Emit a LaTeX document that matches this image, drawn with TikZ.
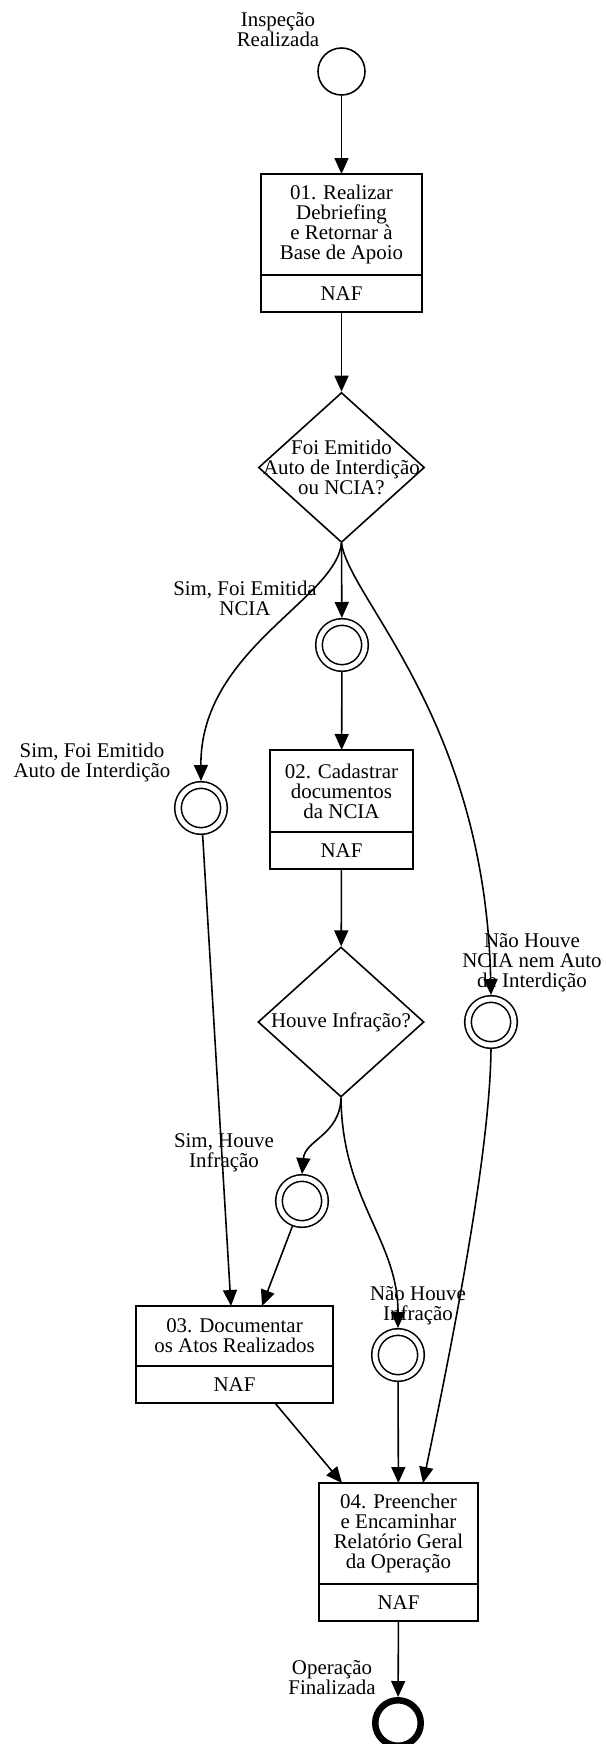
\documentclass[tikz,border=0pt]{standalone}
\usepackage{fontspec}
\setmainfont{Liberation Serif}
\usetikzlibrary{positioning,arrows.meta,shapes.geometric}

\begin{document}
\begin{tikzpicture}[x=0.2mm, y=-0.2mm,
    every node/.style={font=\fontsize{11.9}{11.4}\selectfont, line width=0.9pt},
    task/.style={draw, align=center, inner sep=0pt, outer sep=0pt},
    naf/.style={draw, align=center, inner sep=0pt, outer sep=0pt, minimum height=7.4mm},
    decision/.style={draw, diamond, inner sep=0pt, minimum width=33.2mm, minimum height=30mm},
    event/.style={draw, circle, inner sep=0pt, minimum size=9.4mm},
    inter/.style={draw, circle, inner sep=0pt, minimum size=9.2mm, double, double distance=1mm, outer sep=0.8mm},
    final/.style={draw, circle, inner sep=0pt, minimum size=9.1mm, line width=1.3mm},
    lbl/.style={align=center},
    arrow/.style={-{Triangle[length=3.2mm,width=2.8mm]}, line width=0.9pt}
]
\useasboundingbox (0,0) rectangle (605,1744);

% Eventos de inicio e fim
\node[event] (ini) at (341.5,71.5) {};
\node[final] (fim) at (398,1723) {};

% Tarefas (texto + NAF)
\node[task, minimum width=32.2mm, minimum height=20.2mm] (t1) at (341.5,224.5) {01. Realizar\\Debriefing\\e Retornar à\\Base de Apoio};
\node[naf, minimum width=32.2mm, below=0pt of t1] (t1n) {NAF};
\node[task, minimum width=28.6mm, minimum height=16.4mm] (t2) at (341.5,791) {02. Cadastrar\\documentos\\da NCIA};
\node[naf, minimum width=28.6mm, below=0pt of t2] (t2n) {NAF};
\node[task, minimum width=39.4mm, minimum height=12mm] (t3) at (234.5,1336) {03. Documentar\\os Atos Realizados};
\node[naf, minimum width=39.4mm, below=0pt of t3] (t3n) {NAF};
\node[task, minimum width=31.8mm, minimum height=20.2mm] (t4) at (398.5,1533.5) {04. Preencher\\e Encaminhar\\Relatório Geral\\da Operação};
\node[naf, minimum width=31.8mm, below=0pt of t4] (t4n) {NAF};

% Decisoes
\node[decision] (d1) at (341.5,467.5) {};
\node[lbl] (d1t) at (d1) {Foi Emitido\\Auto de Interdição\\ou NCIA?};
\node[decision] (d2) at (341,1022) {};
\node[lbl] (d2t) at (d2) {Houve Infração?};

% Eventos intermediarios
\node[inter] (c1) at (342,645) {};
\node[inter] (c2) at (201,808) {};
\node[inter] (c3) at (491,1022) {};
\node[inter] (c4) at (302,1201) {};
\node[inter] (c5) at (398,1355) {};

% Rotulos
\node[lbl] (lini) at (278,29.5) {Inspeção\\Realizada};
\node[lbl] (lncia) at (245,598) {Sim, Foi Emitida\\NCIA};
\node[lbl] (lauto) at (92,762) {Sim, Foi Emitido\\Auto de Interdição};
\node[lbl] (lnao) at (532,963) {Não Houve\\NCIA nem Auto\\de Interdição};
\node[lbl] (lsim) at (224,1153) {Sim, Houve\\Infração};
\node[lbl] (lnaoinf) at (418,1306) {Não Houve\\Infração};
\node[lbl] (lfim) at (332,1678) {Operação\\Finalizada};

% Fluxos
\draw[arrow] (ini) -- (t1);
\draw[arrow] (t1n) -- (d1);
\draw[arrow] (d1.south) -- (c1);
\draw[arrow] (d1.south) .. controls (335,600) and (200,650) .. (c2.north);
\draw[arrow] (d1.south) .. controls (350,600) and (485,720) .. (c3.north);
\draw[arrow] (c1) -- (t2);
\draw[arrow] (t2n) -- (d2);
\draw[arrow] (d2.south) .. controls (340,1135) and (305,1140) .. (c4.north);
\draw[arrow] (d2.south) .. controls (342,1200) and (398,1240) .. (c5.north);
\draw[arrow] (c2) -- ([xshift=-0.7mm]t3.north);
\draw[arrow] (c4) -- ([xshift=5.5mm]t3.north);
\draw[arrow] ([xshift=8.1mm]t3n.south) -- ([xshift=-11.3mm]t4.north);
\draw[arrow] (c5) -- (t4);
\draw[arrow] (c3.south) .. controls (490,1150) and (455,1330) .. ([xshift=4.9mm]t4.north);
\draw[arrow] (t4n) -- (fim);
\end{tikzpicture}
\end{document}
